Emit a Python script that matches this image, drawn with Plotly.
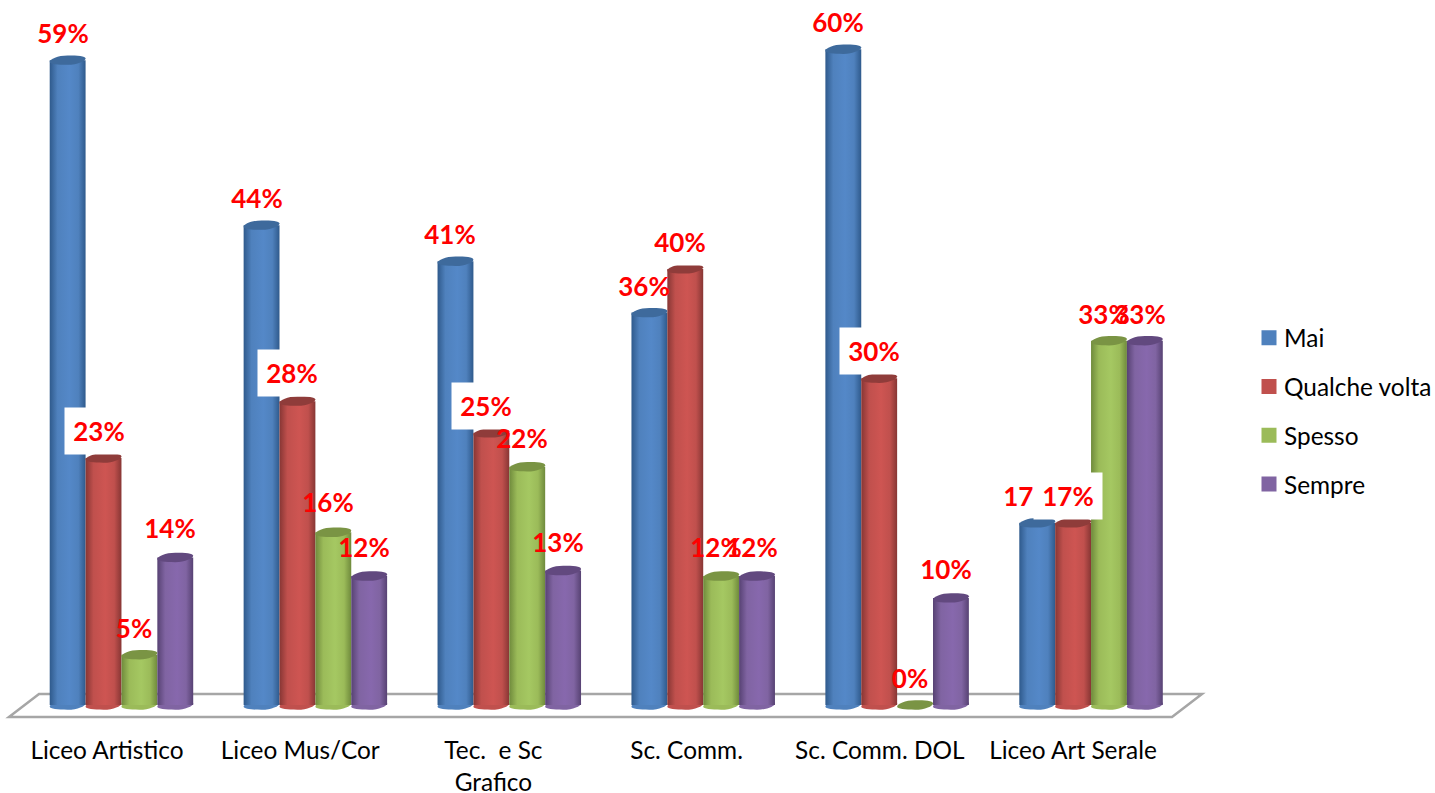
import plotly.graph_objects as go

W, H = 1435, 793

categories = ["Liceo Artistico", "Liceo Mus/Cor", "Tec.  e Sc<br>Grafico", "Sc. Comm.", "Sc. Comm. DOL", "Liceo Art Serale"]
series_names = ["Mai", "Qualche volta", "Spesso", "Sempre"]

mai = [59, 43.9, 40.6, 35.9, 60, 16.67]
qualche_volta = [22.6, 27.8, 24.9, 39.9, 29.9, 16.67]
spesso = [4.6, 15.8, 21.8, 11.8, 0, 33.33]
sempre = [13.5, 11.8, 12.3, 11.8, 9.8, 33.33]

mai_labels = ["59%", "44%", "41%", "36%", "60%", "17%"]
qualche_labels = ["23%", "28%", "25%", "40%", "30%", "17%"]
spesso_labels = ["5%", "16%", "22%", "12%", "0%", "33%"]
sempre_labels = ["14%", "12%", "13%", "12%", "10%", "33%"]

series_values = [mai, qualche_volta, spesso, sempre]
series_labels = [mai_labels, qualche_labels, spesso_labels, sempre_labels]
base_colors = ["#4F81BD", "#C0504D", "#9BBB59", "#8064A2"]
light_colors = ["#5488C8", "#CE5552", "#A5C862", "#8768AD"]
dark_colors = ["#2F5A8C", "#873634", "#6F8A3C", "#574273"]
cap_colors = ["#3E6A9C", "#8F3C3A", "#7A9444", "#62497F"]

# small hand placement of individual value labels: (series, group) -> (dx, dy) in px
label_nudge = {
    (1, 1): (0, 1), (2, 1): (0, 3), (3, 1): (0, 2),
    (2, 2): (0, 2), (3, 2): (0, 2), (2, 3): (0, 2), (3, 3): (0, 2),
    (3, 4): (0, 2), (3, 0): (0, 2), (0, 5): (-3, 0),
}

BAR_GAP = 0.26
BAR_W = (1 - BAR_GAP) / 4
X_L, X_R = 24.5, 1188.0          # pixel span of the bar axis
LAB_L, LAB_R = 10.4, 1169.6      # pixel span of the label axis
Y_BASE, PX_PER = 705.0, 10.93    # pixel of value 0, pixels per unit
Y_MIN, Y_MAX = -1.5, 64.0
half_w = (X_R - X_L) / 6 * BAR_W / 2
half_h = 4.7
tilt = 1.6

def ellipse_path(a, b, t):
    k = 0.5523
    return (f"M {-a},{-t} C {-a},{-t + k*b} {-k*a},{b} 0,{b} "
            f"C {k*a},{b} {a},{t + k*b} {a},{t} "
            f"C {a},{t - k*b} {k*a},{-b} 0,{-b} "
            f"C {-k*a},{-b} {-a},{-t - k*b} {-a},{-t} Z")

def px(x, y):
    return x / W, 1 - y / H

fig = go.Figure()
xs = list(range(len(categories)))

for name, vals, col in zip(series_names, series_values, base_colors):
    fig.add_trace(go.Bar(
        name=name, x=xs, y=vals, marker=dict(color=col, line=dict(width=0)),
        legendgroup=name, xaxis="x", yaxis="y",
    ))

fig.add_trace(go.Scatter(
    x=xs, y=[0] * len(xs), mode="markers", marker=dict(opacity=0),
    xaxis="x2", yaxis="y", showlegend=False, hoverinfo="skip",
))

shapes = []
# floor of the 3-D box
floor = [px(9, 717), px(39, 694), px(1202, 694), px(1172, 717)]
shapes.append(dict(
    type="path", xref="paper", yref="paper", layer="below",
    path="M " + " L ".join(f"{a},{b}" for a, b in floor) + " Z",
    fillcolor="#FFFFFF", line=dict(color="#A6A6A6", width=2.5),
))

annotations = []
for j, (vals, labels) in enumerate(zip(series_values, series_labels)):
    off = (j - 1.5) * BAR_W
    for i, (v, lab) in enumerate(zip(vals, labels)):
        cx = i + off
        # rounded bottom of the cylinder
        if v > 0:
            shapes.append(dict(
                type="path", xref="x", yref="y", layer="below",
                xsizemode="pixel", ysizemode="pixel", xanchor=cx, yanchor=0,
                path=ellipse_path(half_w, half_h, tilt),
                fillcolor=base_colors[j], line=dict(width=0),
            ))
        # top cap
        shapes.append(dict(
            type="path", xref="x", yref="y", layer="above",
            xsizemode="pixel", ysizemode="pixel", xanchor=cx, yanchor=v,
            path=ellipse_path(half_w, half_h, tilt),
            fillcolor=cap_colors[j], line=dict(width=0),
        ))
        dx, dy = label_nudge.get((j, i), (0, 0))
        ann = dict(
            x=cx, y=v, xref="x", yref="y", text=lab, showarrow=False,
            xanchor="center", yanchor="middle", xshift=-5 + dx, yshift=27 + dy,
            font=dict(family="Lato", size=26, color="#FF0000", weight="bold"),
            width=66, height=44, align="center", valign="middle",
        )
        if j == 1:
            ann["bgcolor"] = "#FFFFFF"
        annotations.append(ann)

y_top_px = Y_BASE - (Y_MAX * PX_PER)
y_bot_px = Y_BASE - (Y_MIN * PX_PER)

fig.update_layout(
    width=W, height=H, margin=dict(l=0, r=0, t=0, b=0, autoexpand=False),
    paper_bgcolor="#FFFFFF", plot_bgcolor="rgba(0,0,0,0)",
    barmode="group", bargap=BAR_GAP, bargroupgap=0,
    showlegend=True,
    font=dict(family="Lato", color="#000000"),
    xaxis=dict(
        domain=[X_L / W, X_R / W], range=[-0.5, 5.5], anchor="y",
        showgrid=False, zeroline=False, showline=False,
        showticklabels=False, ticks="",
    ),
    xaxis2=dict(
        domain=[LAB_L / W, LAB_R / W], range=[-0.5, 5.5], anchor="y",
        showgrid=False, zeroline=False, showline=False, ticks="",
        tickmode="array", tickvals=xs, ticktext=categories, tickangle=0,
        tickfont=dict(family="Lato", size=24.4, color="#000000"),
        ticklabelstandoff=12,
    ),
    yaxis=dict(
        domain=[1 - y_bot_px / H, 1 - y_top_px / H], range=[Y_MIN, Y_MAX],
        visible=False, showgrid=False, zeroline=False,
    ),
    legend=dict(
        x=1244 / W, y=1 - 315.5 / H, xanchor="left", yanchor="top",
        font=dict(family="Lato", size=24.4, color="#000000"),
        tracegroupgap=14, traceorder="grouped", bgcolor="rgba(0,0,0,0)",
    ),
    shapes=shapes, annotations=annotations,
)

post = """
document.documentElement.style.overflow = 'hidden';
document.body.style.margin = '0';
var gd = document.getElementById('{plot_id}');
var NS = 'http://www.w3.org/2000/svg';
var dark = %s, light = %s, base = %s;
var defs = gd.querySelector('svg.main-svg defs');
dark.forEach(function(d, i) {
  var g = document.createElementNS(NS, 'linearGradient');
  g.setAttribute('id', 'cyl' + i);
  g.setAttribute('x1', '0'); g.setAttribute('x2', '1');
  g.setAttribute('y1', '0'); g.setAttribute('y2', '0');
  [[0, d], [0.22, base[i]], [0.55, light[i]], [0.8, base[i]], [1, d]].forEach(function(s) {
    var st = document.createElementNS(NS, 'stop');
    st.setAttribute('offset', s[0]);
    st.setAttribute('stop-color', s[1]);
    g.appendChild(st);
  });
  defs.appendChild(g);
});
gd.querySelectorAll('.barlayer .trace').forEach(function(t, i) {
  t.querySelectorAll('path').forEach(function(p) { p.style.fill = 'url(#cyl' + i + ')'; });
});
gd.querySelectorAll('.legend .legendbar path, .legend .traces .legendpoints path').forEach(function(p) {
  p.setAttribute('d', 'M12.5,7.5H-2.5V-7.5H12.5Z');
});
""" % (dark_colors, light_colors, base_colors)

fig.write_html("out.html", post_script=post, config=dict(displayModeBar=False))
